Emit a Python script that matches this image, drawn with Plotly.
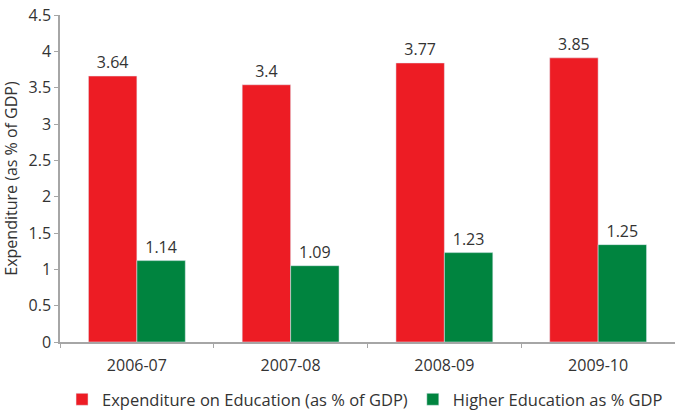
import plotly.graph_objects as go

years = ["2006-07", "2007-08", "2008-09", "2009-10"]
# bar heights as drawn in the picture, labels as printed
edu_heights = [3.66, 3.54, 3.84, 3.91]
edu_labels = ["3.64", "3.4", "3.77", "3.85"]
higher_heights = [1.12, 1.05, 1.23, 1.34]
higher_labels = ["1.14", "1.09", "1.23", "1.25"]

FONT = "Open Sans, Noto Sans, sans-serif"
TXT = "#333333"

fig = go.Figure()
fig.add_trace(go.Bar(x=years, y=edu_heights, name="Expenditure on Education (as % of GDP)",
                     marker_color="#ED1C24", text=edu_labels, textposition="outside",
                     textfont=dict(size=16, color=TXT), cliponaxis=False))
fig.add_trace(go.Bar(x=years, y=higher_heights, name="Higher Education as % GDP",
                     marker_color="#00843F", text=higher_labels, textposition="outside",
                     textfont=dict(size=16, color=TXT), cliponaxis=False))

fig.update_layout(
    width=675, height=410,
    margin=dict(l=60, r=0, t=15, b=68, autoexpand=False),
    barmode="group", bargap=0.37, bargroupgap=0,
    plot_bgcolor="white", paper_bgcolor="white",
    font=dict(family=FONT, size=16, color=TXT),
    legend=dict(orientation="h", x=0.496, xanchor="center", y=-0.176, yanchor="middle",
                font=dict(size=16.5, color=TXT), itemwidth=30, traceorder="normal"),
    showlegend=True,
)
fig.update_yaxes(range=[0, 4.5], dtick=0.5, showgrid=False, zeroline=False,
                 showline=True, linecolor="#A6A6A6", linewidth=1.5,
                 ticks="outside", ticklen=4, tickcolor="#A6A6A6",
                 tickfont=dict(size=16, color=TXT), automargin=False,
                 title=dict(text="Expenditure (as % of GDP)", font=dict(size=16, color=TXT), standoff=8))
fig.update_xaxes(type="category", showgrid=False, showline=True, linecolor="#A6A6A6", linewidth=1.5,
                 ticks="outside", ticklen=4, tickcolor="#A6A6A6", tickson="boundaries",
                 ticklabelstandoff=8,
                 tickfont=dict(size=16, color=TXT), automargin=False)

fig.write_html("out.html", config={"displayModeBar": False},
               post_script="document.body.style.margin='0';document.body.style.overflow='hidden';")
